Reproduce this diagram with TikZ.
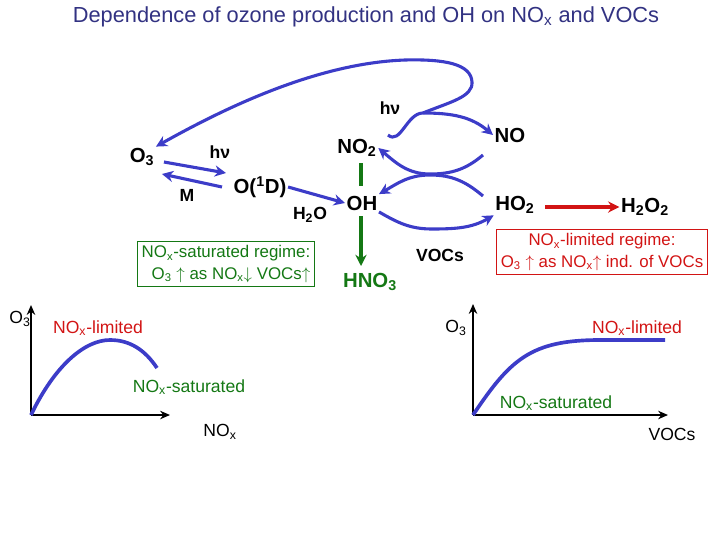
\documentclass[tikz,border=0pt]{standalone}
\usepackage{fontspec}
\setmainfont{Liberation Sans}
\usetikzlibrary{arrows.meta}
\definecolor{rxblue}{RGB}{60,60,200}
\definecolor{ttlblue}{RGB}{50,50,130}
\definecolor{okgreen}{RGB}{20,120,20}
\definecolor{limred}{RGB}{210,20,20}
\begin{document}
\begin{tikzpicture}[x=0.025cm,y=-0.025cm,
    spec/.style={font=\fontsize{14.5}{16}\selectfont\bfseries,inner sep=1pt},
    lbl/.style={font=\fontsize{12.5}{14}\selectfont\bfseries,inner sep=1pt},
    rx/.style={rxblue,line width=2.2pt,-{Stealth[length=8pt,width=8pt]}},
    ax/.style={line width=1.4pt,-{Stealth[length=7pt,width=6pt]}},
    crv/.style={rxblue,line width=2.6pt},
    gtxt/.style={font=\fontsize{12.5}{14}\selectfont,inner sep=1pt}]
    \useasboundingbox (0,0) rectangle (720,540);
    \node[font=\fontsize{15.5}{18}\selectfont,text=ttlblue] (title) at (366,17) {Dependence of ozone production and OH on NO\textsubscript{x} and VOCs};

    % species
    \node[spec] (O3) at (142,157) {O\textsubscript{3}};
    \node[spec] (O1D) at (260,187) {O(\textsuperscript{1}D)};
    \node[spec] (NO2) at (357,148) {NO\textsubscript{2}};
    \node[spec] (NO) at (510,135) {NO};
    \node[spec] (OH) at (362,203) {OH};
    \node[spec] (HO2) at (515,205) {HO\textsubscript{2}};
    \node[spec] (H2O2) at (645,207) {H\textsubscript{2}O\textsubscript{2}};
    \node[spec,text=okgreen] (HNO3) at (370,282) {HNO\textsubscript{3}};

    % labels
    \node[lbl] (hv1) at (220,152) {hν};
    \node[lbl] (hv2) at (390,108) {hν};
    \node[lbl] (M) at (187,195) {M};
    \node[lbl] (H2O) at (310,215) {H\textsubscript{2}O};
    \node[lbl] (VOCs) at (440,255) {VOCs};

    % reactions
    \coordinate (top) at (423,113);
    \draw[rx] ([shift={(8,5)}]O3.east) -- (226,173);
    \draw[rx] (222,187) -- ([shift={(6,17)}]O3.east);
    \draw[rx] (O1D.east) -- (OH.west);
    \draw[rx] (388,135) to[out=-40,in=180] (top) to[out=0,in=140] (NO.west);
    \draw[rx] (483,155) to[out=220,in=0] (430,174) to[out=180,in=-40] (NO2.east);
    \draw[rx] (483,196) to[out=140,in=0] (430,175) to[out=180,in=30] (OH.north east);
    \draw[rx] (OH.south east) to[out=-30,in=180] (432,229) to[out=0,in=210] (HO2.south west);
    \draw[rx] (top) .. controls (450,102) and (473,97) .. (472,82) .. controls (471,64) and (445,59) .. (405,60) .. controls (320,63) and (230,105) .. (O3.north east);
    \draw[okgreen,line width=2.2pt] (361,163) -- (361,186);
    \draw[okgreen,line width=2.2pt,-{Stealth[length=8pt,width=8pt]}] (361,216) -- (361,266);
    \draw[limred,line width=2.2pt,-{Stealth[length=8pt,width=8pt]}] (545,207) -- (H2O2.west|-545,207);

    % regime boxes
    \node[draw=okgreen,text=okgreen,align=right,font=\fontsize{12}{15}\selectfont,inner sep=3pt] (satbox) at (226,264) {NO\textsubscript{x}-saturated regime:\\O\textsubscript{3} $\uparrow$ as NO\textsubscript{x}$\downarrow$ VOCs$\uparrow$};
    \node[draw=limred,text=limred,align=center,font=\fontsize{12}{15}\selectfont,inner sep=3pt] (limbox) at (602,252) {NO\textsubscript{x}-limited regime:\\O\textsubscript{3} $\uparrow$ as NO\textsubscript{x}$\uparrow$ ind. of VOCs};

    % left graph
    \coordinate (oL) at (31,415);
    \draw[ax] (oL) -- (31,305);
    \draw[ax] (oL) -- (170,415);
    \draw[crv] (oL) .. controls (55,365) and (85,340) .. (110,340) .. controls (130,340) and (145,350) .. (157,368);
    \node[gtxt] (o3L) at (20,319) {O\textsubscript{3}};
    \node[gtxt,text=limred] (limL) at (98,328) {NO\textsubscript{x}-limited};
    \node[gtxt,text=okgreen] (satL) at (189,387) {NO\textsubscript{x}-saturated};
    \node[gtxt] (noxL) at (220,432) {NO\textsubscript{x}};

    % right graph
    \coordinate (oR) at (473,415);
    \draw[ax] (oR) -- (473,304);
    \draw[ax] (oR) -- (668,415);
    \draw[crv] (oR) .. controls (510,360) and (530,340) .. (600,340) -- (665,340);
    \node[gtxt] (o3R) at (456,328) {O\textsubscript{3}};
    \node[gtxt,text=limred] (limR) at (637,328) {NO\textsubscript{x}-limited};
    \node[gtxt,text=okgreen] (satR) at (556,403) {NO\textsubscript{x}-saturated};
    \node[gtxt] (vocR) at (672,434) {VOCs};
\end{tikzpicture}
\end{document}
